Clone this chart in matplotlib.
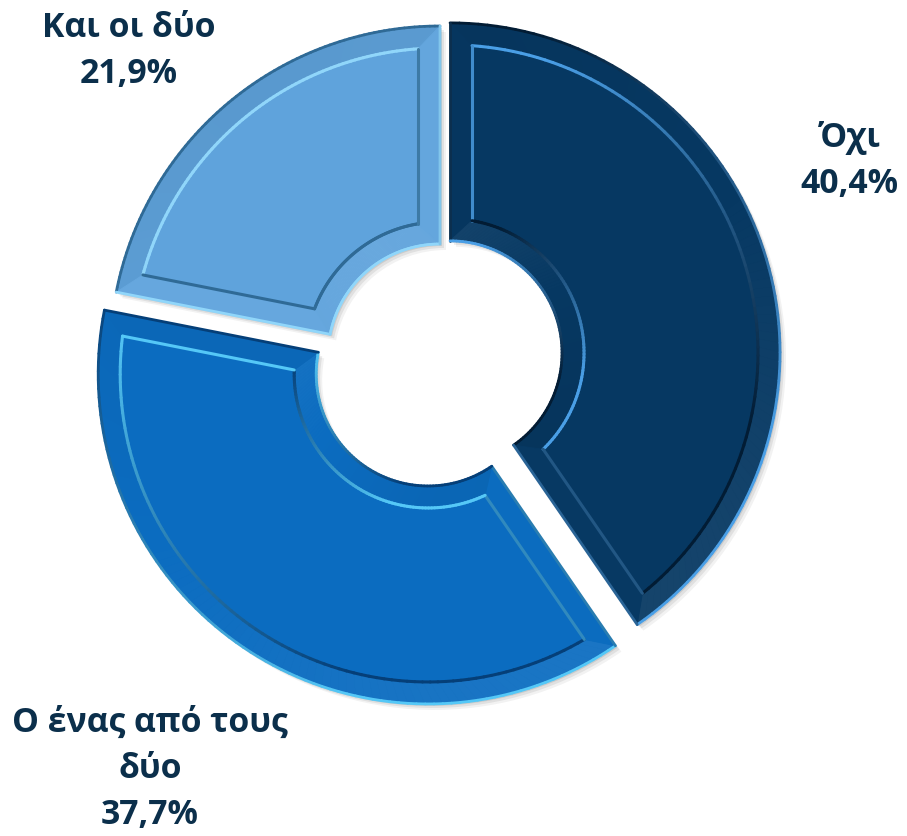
import numpy as np
import matplotlib.pyplot as plt
from matplotlib.collections import PolyCollection, LineCollection
from matplotlib.patches import Wedge
from matplotlib.colors import to_rgb

plt.rcParams["font.family"] = ["Open Sans", "DejaVu Sans"]

# ----------------------------------------------------------------------
# data
# ----------------------------------------------------------------------
categories = ["Όχι", "Ο ένας από τους\nδύο", "Και οι δύο"]
shares = [40.4, 37.7, 21.9]
share_labels = ["40,4%", "37,7%", "21,9%"]

slice_colors = ["#063862", "#0b6cc0", "#5fa3dc"]
rim_dark = ["#021c34", "#053f78", "#2f6a96"]
rim_light = ["#4a9fe6", "#55c8f7", "#90d6fa"]
TEXT_COLOR = "#0b2f4b"

# layout (pixels, y up)
W, H = 907, 837
CENTER = (440, H - 357)
R_OUT, R_IN = 330, 112
EXPLODE = [10.5, 21.5, 0.0]
BEVEL = 22
LABEL_POS = [(849, H - 161), (150, H - 769), (129, H - 51)]
LIGHT = np.array([0.5, -0.85]) / np.hypot(0.5, -0.85)


def ring_outline(cx, cy, r_out, r_in, t1, t2, d=0.0, n=90):
    """Outline of an annular sector, optionally inset by d on every side."""
    ro, ri = r_out - d, r_in + d
    ao = np.degrees(np.arcsin(d / ro))
    ai = np.degrees(np.arcsin(d / ri))
    a_out = np.radians(np.linspace(t1 + ao, t2 - ao, n))
    a_in = np.radians(np.linspace(t2 - ai, t1 + ai, n))
    outer = np.column_stack([cx + ro * np.cos(a_out), cy + ro * np.sin(a_out)])
    inner = np.column_stack([cx + ri * np.cos(a_in), cy + ri * np.sin(a_in)])
    return np.vstack([outer, inner])


def shade(color, k):
    c = np.array(to_rgb(color))
    return c + (1 - c) * k if k > 0 else c * (1 + k)


def mix(c1, c2, t):
    return np.array(to_rgb(c1)) * (1 - t) + np.array(to_rgb(c2)) * t


def bevel(ax, wedge, base, dark, light):
    cx, cy = wedge.center
    t1, t2 = wedge.theta1, wedge.theta2
    outer = ring_outline(cx, cy, wedge.r, wedge.r - wedge.width, t1, t2)
    inset = ring_outline(cx, cy, wedge.r, wedge.r - wedge.width, t1, t2, d=BEVEL)

    quads, band_cols, rim_segs, rim_cols, groove_segs, groove_cols = [], [], [], [], [], []
    m = len(outer)
    for i in range(m):
        j = (i + 1) % m
        seg = outer[j] - outer[i]
        length = np.hypot(*seg)
        if length < 1e-6:
            continue
        nrm = np.array([seg[1], -seg[0]]) / length
        dot = float(nrm @ LIGHT)
        quads.append([outer[i], outer[j], inset[j], inset[i]])
        band_cols.append(shade(base, 0.06 * dot))
        rim_segs.append([outer[i], outer[j]])
        rim_cols.append(mix(dark, light, np.clip(0.5 + 0.7 * dot, 0, 1)))
        groove_segs.append([inset[i], inset[j]])
        groove_cols.append(mix(dark, light, np.clip(0.5 - 0.7 * dot, 0, 1)))

    ax.add_collection(PolyCollection(quads, facecolors=band_cols, edgecolors=band_cols,
                                     linewidths=0.6, zorder=2))
    ax.add_collection(LineCollection(groove_segs, colors=groove_cols, linewidths=2.2,
                                     capstyle="round", zorder=3))
    ax.add_collection(LineCollection(rim_segs, colors=rim_cols, linewidths=2.0,
                                     capstyle="round", zorder=3))


fig = plt.figure(figsize=(W / 100, H / 100), dpi=100)
ax = fig.add_axes([0, 0, 1, 1])

wedges, _ = ax.pie(shares, explode=EXPLODE, colors=slice_colors, startangle=90,
                   counterclock=False, radius=R_OUT, center=CENTER,
                   wedgeprops=dict(width=R_OUT - R_IN, linewidth=0))

# soft drop shadow under each slice
for w in wedges:
    for off, alpha in [(6, 0.05), (4, 0.07), (2, 0.09)]:
        ax.add_patch(Wedge((w.center[0] + off, w.center[1] - off), w.r, w.theta1, w.theta2,
                           width=w.width, color="black", alpha=alpha, lw=0, zorder=0.5))

for w, base, dk, lt in zip(wedges, slice_colors, rim_dark, rim_light):
    bevel(ax, w, base, dk, lt)

for cat, pct, (x, y) in zip(categories, share_labels, LABEL_POS):
    ax.text(x, y, f"{cat}\n{pct}", ha="center", va="center", fontsize=24.3,
            fontweight="bold", color=TEXT_COLOR, linespacing=1.48, zorder=5)

ax.set_xlim(0, W)
ax.set_ylim(0, H)
ax.set_aspect("equal")
ax.axis("off")

fig.savefig("out.png", dpi=100, facecolor="white")
